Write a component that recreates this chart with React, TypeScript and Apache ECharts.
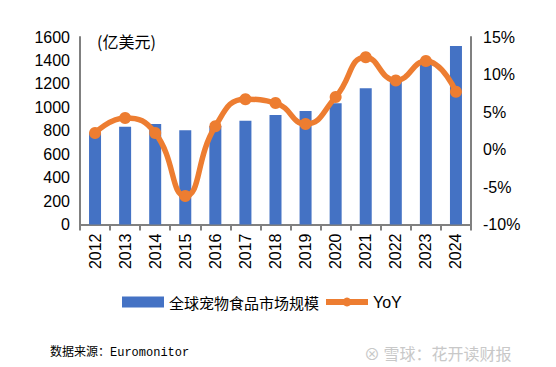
import React, { useEffect, useRef } from "react";
import * as echarts from "echarts";

const years = ["2012","2013","2014","2015","2016","2017","2018","2019","2020","2021","2022","2023","2024"];
const marketSize = [785, 834, 858, 804, 840, 886, 934, 968, 1034, 1162, 1225, 1405, 1523];
const yoy = [2.2, 4.2, 2.2, -6.2, 3.1, 6.7, 6.2, 3.4, 7.0, 12.3, 9.2, 11.8, 7.7];

export default function App() {
  const ref = useRef<HTMLDivElement>(null);
  useEffect(() => {
    if (!ref.current) return;
    const chart = echarts.init(ref.current, null, { renderer: "svg" });
    const font = "Liberation Sans, Arial, sans-serif";
    chart.setOption({
      animation: false,
      backgroundColor: "#fff",
      grid: { left: 80, right: 85, top: 37, bottom: 142.5 },
      legend: {
        left: 117,
        top: 289,
        itemGap: 4,
        itemWidth: 42,
        itemHeight: 11,
        textStyle: { fontFamily: "Noto Sans CJK SC, " + font, fontSize: 15, color: "#000" },
        data: [
          { name: "全球宠物食品市场规模", icon: "rect" },
          { name: "YoY", textStyle: { fontSize: 16, fontFamily: font }, lineStyle: { width: 6 } },
        ],
      },
      xAxis: {
        type: "category",
        data: years,
        axisLine: { lineStyle: { color: "#808080", width: 2 } },
        axisTick: { show: true, length: 6, lineStyle: { color: "#808080", width: 2 } },
        axisLabel: { rotate: 90, fontSize: 16, fontFamily: font, color: "#000", margin: 9 },
      },
      yAxis: [
        {
          type: "value",
          min: 0,
          max: 1600,
          interval: 200,
          splitLine: { show: false },
          axisLine: { show: true, lineStyle: { color: "#808080", width: 2 } },
          axisTick: { show: false },
          axisLabel: { fontSize: 16, fontFamily: font, color: "#000", margin: 10, formatter: (v: number) => String(v) },
        },
        {
          type: "value",
          min: -10,
          max: 15,
          interval: 5,
          splitLine: { show: false },
          axisLine: { show: true, lineStyle: { color: "#808080", width: 2 } },
          axisTick: { show: false },
          axisLabel: { fontSize: 16, fontFamily: font, color: "#000", margin: 12, formatter: "{value}%" },
        },
      ],
      series: [
        {
          name: "全球宠物食品市场规模",
          type: "bar",
          data: marketSize,
          barWidth: 12,
          itemStyle: { color: "#4472C4" },
        },
        {
          name: "YoY",
          type: "line",
          yAxisIndex: 1,
          data: yoy,
          smooth: 0.5,
          symbol: "circle",
          symbolSize: 12,
          lineStyle: { color: "#ED7D31", width: 5.5 },
          itemStyle: { color: "#ED7D31" },
        },
      ],
      graphic: [
        {
          type: "text",
          left: 97,
          top: 33,
          style: { text: "(亿美元)", fontSize: 16, fontFamily: "Noto Sans CJK SC, " + font, fill: "#000" },
        },
        {
          type: "text",
          left: 50,
          top: 347,
          style: { text: "数据来源：Euromonitor", fontSize: 12, fontFamily: "Liberation Mono, Noto Sans CJK SC, monospace", fill: "#000" },
        },
        {
          type: "text",
          left: 364,
          top: 345,
          style: { text: "⊗ 雪球：花开读财报", fontSize: 16, fontFamily: "Noto Sans CJK SC, sans-serif", fill: "#c8c8c8" },
        },
      ],
    });
    return () => chart.dispose();
  }, []);
  return <div ref={ref} style={{ width: 556, height: 367, position: "absolute", left: 0, top: 0 }} />;
}
